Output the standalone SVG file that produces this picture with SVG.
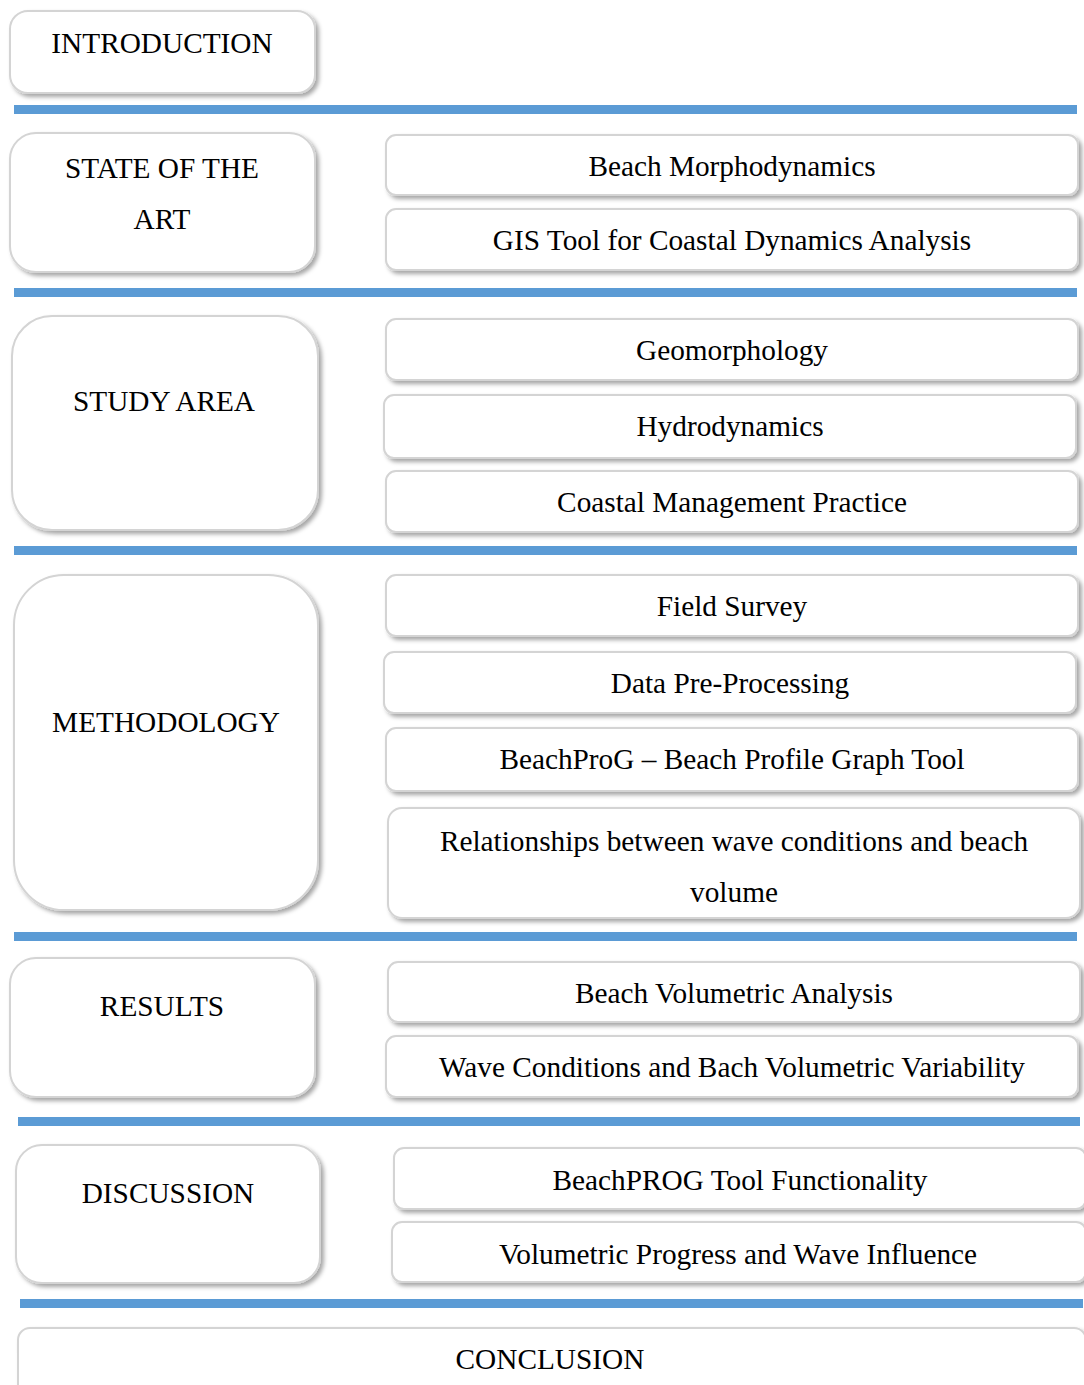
<svg xmlns="http://www.w3.org/2000/svg" width="1084" height="1385" viewBox="0 0 1084 1385">
<defs>
<filter id="sh" x="-5%" y="-10%" width="115%" height="130%">
<feDropShadow dx="3" dy="3" stdDeviation="2.2" flood-color="#000" flood-opacity="0.35"/>
</filter>
<style>
.box{fill:#fff;stroke:#d4d4d4;stroke-width:2;filter:url(#sh)}
.t{font-family:"Liberation Serif","Times New Roman",serif;font-size:29.3px;fill:#000;text-anchor:middle}
.bar{fill:#5b9bd5}
</style>
</defs>
<rect width="1084" height="1385" fill="#fff"/>
<g id="connectors">
<rect class="bar" x="14" y="105" width="1063" height="9"/>
<rect class="bar" x="14" y="288" width="1063" height="9"/>
<rect class="bar" x="14" y="546" width="1063" height="9"/>
<rect class="bar" x="14" y="932" width="1063" height="9"/>
<rect class="bar" x="18" y="1117" width="1062" height="9"/>
<rect class="bar" x="20" y="1299" width="1063" height="9"/>
</g>
<g id="introduction"><rect class="box" x="10" y="11" width="305" height="82" rx="18"/><text class="t" x="162" y="53">INTRODUCTION</text></g>
<g id="state-of-the-art"><rect class="box" x="10" y="133" width="305" height="139" rx="26"/><text class="t" x="162" y="178">STATE OF THE</text><text class="t" x="162" y="229">ART</text></g>
<g id="beach-morpho"><rect class="box" x="386" y="135" width="692" height="60" rx="10"/><text class="t" x="732" y="176">Beach Morphodynamics</text></g>
<g id="gis-tool"><rect class="box" x="386" y="209" width="692" height="61" rx="10"/><text class="t" x="732" y="250">GIS Tool for Coastal Dynamics Analysis</text></g>
<g id="study-area"><rect class="box" x="12" y="316" width="306" height="214" rx="40"/><text class="t" x="164" y="411">STUDY AREA</text></g>
<g id="geomorphology"><rect class="box" x="386" y="319" width="692" height="61" rx="10"/><text class="t" x="732" y="360">Geomorphology</text></g>
<g id="hydrodynamics"><rect class="box" x="384" y="395" width="692" height="63" rx="10"/><text class="t" x="730" y="436">Hydrodynamics</text></g>
<g id="coastal-mgmt"><rect class="box" x="386" y="471" width="692" height="61" rx="10"/><text class="t" x="732" y="512">Coastal Management Practice</text></g>
<g id="methodology"><rect class="box" x="14" y="575" width="304" height="335" rx="50"/><text class="t" x="166" y="732">METHODOLOGY</text></g>
<g id="field-survey"><rect class="box" x="386" y="575" width="692" height="61" rx="10"/><text class="t" x="732" y="616">Field Survey</text></g>
<g id="data-preprocessing"><rect class="box" x="384" y="652" width="692" height="61" rx="10"/><text class="t" x="730" y="693">Data Pre-Processing</text></g>
<g id="beachprog"><rect class="box" x="386" y="728" width="692" height="63" rx="10"/><text class="t" x="732" y="769">BeachProG – Beach Profile Graph Tool</text></g>
<g id="relationships"><rect class="box" x="388" y="808" width="692" height="110" rx="14"/><text class="t" x="734" y="851">Relationships between wave conditions and beach</text><text class="t" x="734" y="902">volume</text></g>
<g id="results"><rect class="box" x="10" y="958" width="305" height="139" rx="26"/><text class="t" x="162" y="1016">RESULTS</text></g>
<g id="beach-volumetric"><rect class="box" x="388" y="962" width="692" height="60" rx="10"/><text class="t" x="734" y="1003">Beach Volumetric Analysis</text></g>
<g id="wave-conditions"><rect class="box" x="386" y="1036" width="692" height="61" rx="10"/><text class="t" x="732" y="1077">Wave Conditions and Bach Volumetric Variability</text></g>
<g id="discussion"><rect class="box" x="16" y="1145" width="304" height="138" rx="26"/><text class="t" x="168" y="1203">DISCUSSION</text></g>
<g id="beachprog-func"><rect class="box" x="394" y="1148" width="692" height="61" rx="10"/><text class="t" x="740" y="1190">BeachPROG Tool Functionality</text></g>
<g id="volumetric-progress"><rect class="box" x="392" y="1222" width="694" height="60" rx="10"/><text class="t" x="738" y="1264">Volumetric Progress and Wave Influence</text></g>
<g id="conclusion"><rect class="box" x="18" y="1328" width="1068" height="80" rx="12"/><text class="t" x="550" y="1369">CONCLUSION</text></g>
</svg>
